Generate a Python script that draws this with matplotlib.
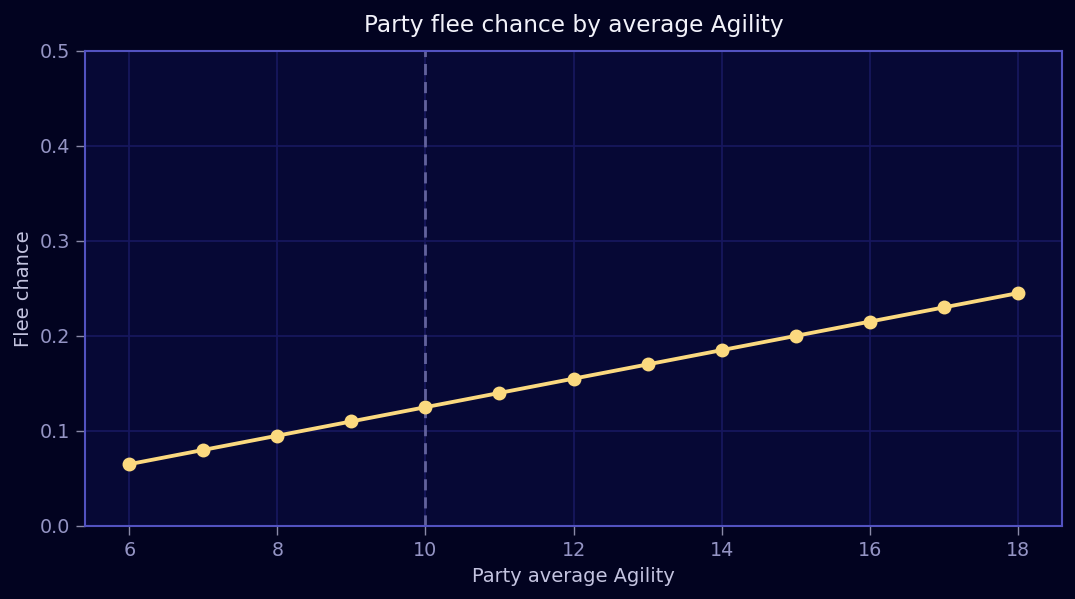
import matplotlib
matplotlib.use("Agg")
import matplotlib.pyplot as plt

# data
agility = [6, 7, 8, 9, 10, 11, 12, 13, 14, 15, 16, 17, 18]
flee = [0.065, 0.08, 0.095, 0.11, 0.125, 0.14, 0.155, 0.17, 0.185, 0.20, 0.215, 0.23, 0.245]
baseline = 10

fig, ax = plt.subplots(figsize=(8.6, 4.792), dpi=125)
fig.patch.set_facecolor("#020320")
ax.set_facecolor("#060835")

ax.grid(True, color="#17175e", linewidth=1)
ax.set_axisbelow(True)

ax.axvline(baseline, color="#62629c", linestyle=(0, (4, 2.5)), linewidth=1.6)
ax.plot(agility, flee, color="#fbd97f", linewidth=2.2, marker="o", markersize=7)

ax.set_ylim(0, 0.5)
ax.set_xticks([6, 8, 10, 12, 14, 16, 18])

for s in ax.spines.values():
    s.set_color("#5252c0")
    s.set_linewidth(1.2)
ax.tick_params(colors="#9494c4", labelsize=11, length=5)
ax.tick_params(axis="both", color="#8a8aa8")

ax.set_title("Party flee chance by average Agility", color="#f2f2fa", fontsize=13.4, pad=11)
ax.set_xlabel("Party average Agility", color="#c4c4e0", fontsize=11.2)
ax.set_ylabel("Flee chance", color="#c4c4e0", fontsize=11.2)

fig.subplots_adjust(left=0.079, right=0.988, top=0.915, bottom=0.122)
fig.savefig("out.png", dpi=125, facecolor=fig.get_facecolor())
